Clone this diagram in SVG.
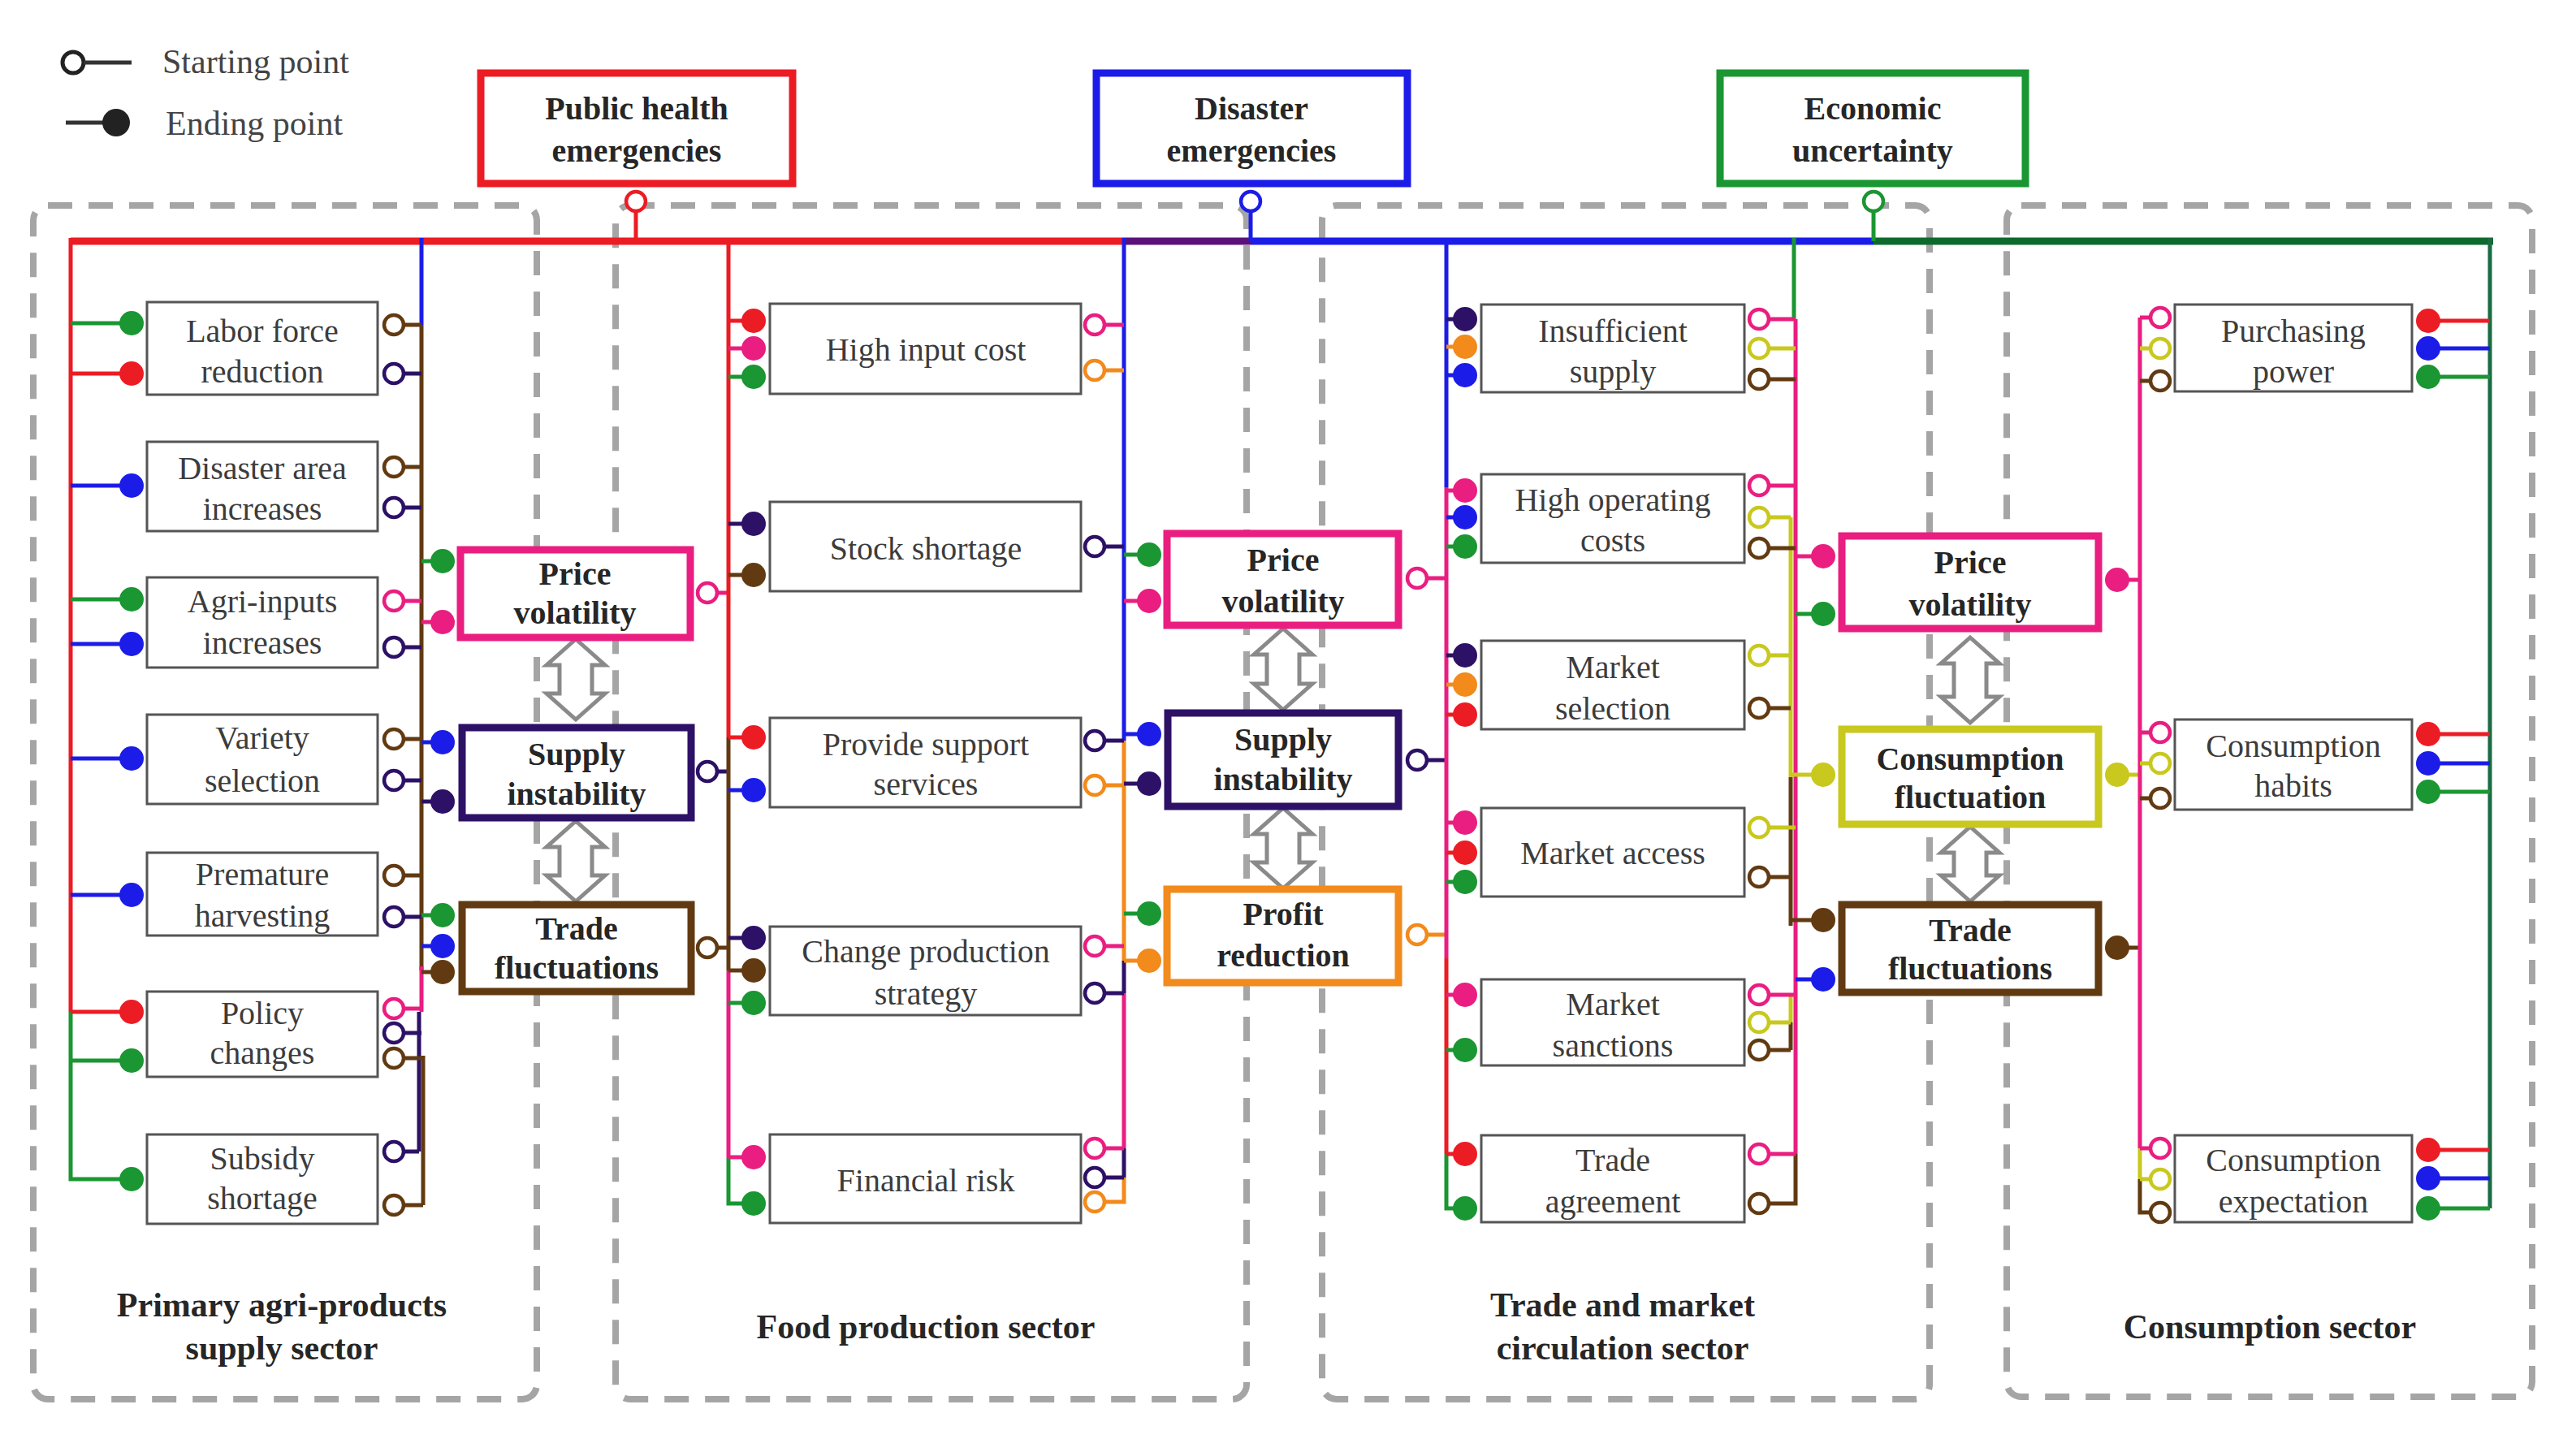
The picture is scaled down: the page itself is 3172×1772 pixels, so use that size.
<svg xmlns="http://www.w3.org/2000/svg" width="3172" height="1772" viewBox="0 0 3172 1772">
<style>
.sec{fill:none;stroke:#a5a5a5;stroke-width:8;stroke-dasharray:30 20}
.nb{fill:#fff;stroke:#555;stroke-width:3}
.t{font-family:"Liberation Serif","Times New Roman",serif;font-size:40px;fill:#3c3c3c;text-anchor:middle}
.tb{font-family:"Liberation Serif","Times New Roman",serif;font-size:40px;font-weight:bold;fill:#262626;text-anchor:middle}
.ts{font-size:42px}
.lg{font-family:"Liberation Serif","Times New Roman",serif;font-size:42px;fill:#444}
.l{fill:none;stroke-width:5}
.bus{fill:none;stroke-width:9}
.o{fill:#fff;stroke-width:4.5}
.arr{fill:#fff;stroke:#8a8a8a;stroke-width:5}
.mb{fill:#fff;stroke-width:9}
.cR{stroke:#ec1c24}.cB{stroke:#1c1ce8}.cG{stroke:#1a9632}.cP{stroke:#e91e80}.cI{stroke:#2d1166}.cN{stroke:#623a12}.cO{stroke:#f28a1c}.cY{stroke:#c8c81e}.cD{stroke:#1b6b45}
.fR{fill:#ec1c24}.fB{fill:#1c1ce8}.fG{fill:#1a9632}.fP{fill:#e91e80}.fI{fill:#2d1166}.fN{fill:#623a12}.fO{fill:#f28a1c}.fY{fill:#c8c81e}
</style>

<g id="legend">
<circle cx="90" cy="77" r="13" fill="#fff" stroke="#222" stroke-width="5"/>
<path d="M103 77H162" stroke="#333" stroke-width="5"/>
<text class="lg" x="200" y="90">Starting point</text>
<path d="M81 151H135" stroke="#333" stroke-width="5"/>
<circle cx="143" cy="151" r="17" fill="#222"/>
<text class="lg" x="204" y="166">Ending point</text>
</g>

<g id="sectors">
<rect class="sec" x="41" y="253" width="620" height="1470" rx="18"/>
<rect class="sec" x="758" y="253" width="777" height="1470" rx="18"/>
<rect class="sec" x="1628" y="253" width="748" height="1470" rx="18"/>
<rect class="sec" x="2471" y="253" width="647" height="1467" rx="18"/>
<text class="tb ts" x="347" y="1621">Primary agri-products</text>
<text class="tb ts" x="347" y="1674">supply sector</text>
<text class="tb ts" x="1140" y="1648">Food production sector</text>
<text class="tb ts" x="1998" y="1621">Trade and market</text>
<text class="tb ts" x="1998" y="1674">circulation sector</text>
<text class="tb ts" x="2795" y="1648">Consumption sector</text>
</g>

<g id="connectors">
<!-- top bus -->
<path class="bus cR" d="M87 297H1382"/>
<path class="bus" stroke="#5a127a" d="M1382 297H1540"/>
<path class="bus cB" d="M1540 297H2307"/>
<path class="bus" stroke="#0e6a2c" d="M2307 297H3070"/>
<path class="l cR" d="M783 260V297"/>
<path class="l cB" d="M1540 260V297"/>
<path class="l cG" d="M2307 260V297"/>
<circle class="o cR" cx="783" cy="248" r="12"/>
<circle class="o cB" cx="1540" cy="248" r="12"/>
<circle class="o cG" cx="2307" cy="248" r="12"/>

<!-- sector 1 left -->
<path class="l cR" d="M87 293V1246"/>
<path class="l cG" d="M87 1246V1452H162"/>
<path class="l cG" d="M87 398H162"/><path class="l cR" d="M87 460H162"/><path class="l cB" d="M87 598H162"/>
<path class="l cG" d="M87 738H162"/><path class="l cB" d="M87 793H162"/><path class="l cB" d="M87 934H162"/>
<path class="l cB" d="M87 1102H162"/><path class="l cR" d="M87 1246H162"/><path class="l cG" d="M87 1306H162"/>
<circle class="fG" cx="162" cy="398" r="15"/><circle class="fR" cx="162" cy="460" r="15"/><circle class="fB" cx="162" cy="598" r="15"/>
<circle class="fG" cx="162" cy="738" r="15"/><circle class="fB" cx="162" cy="793" r="15"/><circle class="fB" cx="162" cy="934" r="15"/>
<circle class="fB" cx="162" cy="1102" r="15"/><circle class="fR" cx="162" cy="1246" r="15"/><circle class="fG" cx="162" cy="1306" r="15"/>
<circle class="fG" cx="162" cy="1452" r="15"/>

<!-- sector 1 right -->
<path class="l cB" d="M519 293V400"/>
<path class="l cN" d="M519 400V1195"/>
<path class="l cP" d="M519 1190V1246"/>
<path class="l cI" d="M516 1246V1418"/>
<path class="l cN" d="M521 1300V1484"/>
<path class="l cN" d="M497 400H519"/><path class="l cI" d="M497 460H519"/><path class="l cN" d="M497 575H519"/>
<path class="l cI" d="M497 625H519"/><path class="l cP" d="M497 740H519"/><path class="l cI" d="M497 797H519"/>
<path class="l cN" d="M497 910H519"/><path class="l cI" d="M497 961H519"/><path class="l cN" d="M497 1078H519"/>
<path class="l cI" d="M497 1129H519"/><path class="l cP" d="M497 1242H519"/><path class="l cI" d="M497 1272H519"/>
<path class="l cN" d="M497 1303H521"/><path class="l cI" d="M497 1418H516"/><path class="l cN" d="M497 1484H521"/>
<circle class="o cN" cx="485" cy="400" r="12"/><circle class="o cI" cx="485" cy="460" r="12"/><circle class="o cN" cx="485" cy="575" r="12"/>
<circle class="o cI" cx="485" cy="625" r="12"/><circle class="o cP" cx="485" cy="740" r="12"/><circle class="o cI" cx="485" cy="797" r="12"/>
<circle class="o cN" cx="485" cy="910" r="12"/><circle class="o cI" cx="485" cy="961" r="12"/><circle class="o cN" cx="485" cy="1078" r="12"/>
<circle class="o cI" cx="485" cy="1129" r="12"/><circle class="o cP" cx="485" cy="1242" r="12"/><circle class="o cI" cx="485" cy="1272" r="12"/>
<circle class="o cN" cx="485" cy="1303" r="12"/><circle class="o cI" cx="485" cy="1418" r="12"/><circle class="o cN" cx="485" cy="1484" r="12"/>

<!-- mid 1 -->
<path class="l cG" d="M519 691H545"/><path class="l cP" d="M519 766H545"/><path class="l cB" d="M519 914H545"/>
<path class="l cI" d="M519 987H545"/><path class="l cG" d="M519 1127H545"/><path class="l cB" d="M519 1165H545"/>
<path class="l cN" d="M519 1197H545"/>
<circle class="fG" cx="545" cy="691" r="15"/><circle class="fP" cx="545" cy="766" r="15"/><circle class="fB" cx="545" cy="914" r="15"/>
<circle class="fI" cx="545" cy="987" r="15"/><circle class="fG" cx="545" cy="1127" r="15"/><circle class="fB" cx="545" cy="1165" r="15"/>
<circle class="fN" cx="545" cy="1197" r="15"/>
<path class="l cP" d="M883 730H897"/><path class="l cI" d="M883 950H897"/><path class="l cN" d="M883 1167H897"/>
<circle class="o cP" cx="871" cy="730" r="12"/><circle class="o cI" cx="871" cy="950" r="12"/><circle class="o cN" cx="871" cy="1167" r="12"/>

<!-- sector 2 left -->
<path class="l cR" d="M897 293V908"/>
<path class="l cN" d="M897 908V1195"/>
<path class="l cP" d="M897 1195V1425"/>
<path class="l cG" d="M897 1425V1482H928"/>
<path class="l cR" d="M897 395H928"/><path class="l cP" d="M897 429H928"/><path class="l cG" d="M897 464H928"/>
<path class="l cI" d="M897 645H928"/><path class="l cN" d="M897 708H928"/><path class="l cR" d="M897 908H928"/>
<path class="l cB" d="M897 973H928"/><path class="l cI" d="M897 1155H928"/><path class="l cN" d="M897 1195H928"/>
<path class="l cG" d="M897 1235H928"/><path class="l cP" d="M897 1425H928"/>
<circle class="fR" cx="928" cy="395" r="15"/><circle class="fP" cx="928" cy="429" r="15"/><circle class="fG" cx="928" cy="464" r="15"/>
<circle class="fI" cx="928" cy="645" r="15"/><circle class="fN" cx="928" cy="708" r="15"/><circle class="fR" cx="928" cy="908" r="15"/>
<circle class="fB" cx="928" cy="973" r="15"/><circle class="fI" cx="928" cy="1155" r="15"/><circle class="fN" cx="928" cy="1195" r="15"/>
<circle class="fG" cx="928" cy="1235" r="15"/><circle class="fP" cx="928" cy="1425" r="15"/><circle class="fG" cx="928" cy="1482" r="15"/>

<!-- sector 2 right -->
<path class="l cB" d="M1384 293V912"/>
<path class="l cO" d="M1384 912V1183"/>
<path class="l cI" d="M1384 1183V1223"/>
<path class="l cP" d="M1384 1223V1414"/>
<path class="l cI" d="M1384 1414V1450"/>
<path class="l cO" d="M1384 1450V1480H1360"/>
<path class="l cP" d="M1360 400H1384"/><path class="l cO" d="M1360 456H1384"/><path class="l cI" d="M1360 673H1384"/>
<path class="l cI" d="M1360 912H1384"/><path class="l cO" d="M1360 967H1384"/><path class="l cP" d="M1360 1165H1384"/>
<path class="l cI" d="M1360 1223H1384"/><path class="l cP" d="M1360 1414H1384"/><path class="l cI" d="M1360 1450H1384"/>
<circle class="o cP" cx="1348" cy="400" r="12"/><circle class="o cO" cx="1348" cy="456" r="12"/><circle class="o cI" cx="1348" cy="673" r="12"/>
<circle class="o cI" cx="1348" cy="912" r="12"/><circle class="o cO" cx="1348" cy="967" r="12"/><circle class="o cP" cx="1348" cy="1165" r="12"/>
<circle class="o cI" cx="1348" cy="1223" r="12"/><circle class="o cP" cx="1348" cy="1414" r="12"/><circle class="o cI" cx="1348" cy="1450" r="12"/>
<circle class="o cO" cx="1348" cy="1480" r="12"/>

<!-- mid 2 -->
<path class="l cG" d="M1384 683H1415"/><path class="l cP" d="M1384 740H1415"/><path class="l cB" d="M1384 904H1415"/>
<path class="l cI" d="M1384 965H1415"/><path class="l cG" d="M1384 1125H1415"/><path class="l cO" d="M1384 1183H1415"/>
<circle class="fG" cx="1415" cy="683" r="15"/><circle class="fP" cx="1415" cy="740" r="15"/><circle class="fB" cx="1415" cy="904" r="15"/>
<circle class="fI" cx="1415" cy="965" r="15"/><circle class="fG" cx="1415" cy="1125" r="15"/><circle class="fO" cx="1415" cy="1183" r="15"/>
<path class="l cP" d="M1757 712H1781"/><path class="l cI" d="M1757 936H1781"/><path class="l cO" d="M1757 1151H1781"/>
<circle class="o cP" cx="1745" cy="712" r="12"/><circle class="o cI" cx="1745" cy="936" r="12"/><circle class="o cO" cx="1745" cy="1151" r="12"/>

<!-- sector 3 left -->
<path class="l cB" d="M1781 293V600"/>
<path class="l cP" d="M1781 600V1180"/>
<path class="l cR" d="M1781 1180V1421"/>
<path class="l cG" d="M1781 1421V1488H1804"/>
<path class="l cI" d="M1781 393H1804"/><path class="l cO" d="M1781 427H1804"/><path class="l cB" d="M1781 462H1804"/>
<path class="l cP" d="M1781 604H1804"/><path class="l cB" d="M1781 637H1804"/><path class="l cG" d="M1781 673H1804"/>
<path class="l cI" d="M1781 807H1804"/><path class="l cO" d="M1781 843H1804"/><path class="l cR" d="M1781 880H1804"/>
<path class="l cP" d="M1781 1013H1804"/><path class="l cR" d="M1781 1050H1804"/><path class="l cG" d="M1781 1086H1804"/>
<path class="l cP" d="M1781 1225H1804"/><path class="l cG" d="M1781 1293H1804"/><path class="l cR" d="M1781 1421H1804"/>
<circle class="fI" cx="1804" cy="393" r="15"/><circle class="fO" cx="1804" cy="427" r="15"/><circle class="fB" cx="1804" cy="462" r="15"/>
<circle class="fP" cx="1804" cy="604" r="15"/><circle class="fB" cx="1804" cy="637" r="15"/><circle class="fG" cx="1804" cy="673" r="15"/>
<circle class="fI" cx="1804" cy="807" r="15"/><circle class="fO" cx="1804" cy="843" r="15"/><circle class="fR" cx="1804" cy="880" r="15"/>
<circle class="fP" cx="1804" cy="1013" r="15"/><circle class="fR" cx="1804" cy="1050" r="15"/><circle class="fG" cx="1804" cy="1086" r="15"/>
<circle class="fP" cx="1804" cy="1225" r="15"/><circle class="fG" cx="1804" cy="1293" r="15"/><circle class="fR" cx="1804" cy="1421" r="15"/>
<circle class="fG" cx="1804" cy="1488" r="15"/>

<!-- sector 3 right -->
<path class="l cG" d="M2209 293V393"/>
<path class="l cP" d="M2211 393V1421"/>
<path class="l cY" d="M2205 637V957"/>
<path class="l cN" d="M2205 957V1140"/>
<path class="l cY" d="M2205 1225V1259"/>
<path class="l cN" d="M2205 1259V1293"/>
<path class="l cN" d="M2211 1421V1482H2178"/>
<path class="l cP" d="M2178 393H2211"/><path class="l cY" d="M2178 429H2211"/><path class="l cN" d="M2178 467H2211"/>
<path class="l cP" d="M2178 598H2211"/><path class="l cY" d="M2178 637H2205"/><path class="l cN" d="M2178 675H2211"/>
<path class="l cY" d="M2178 807H2205"/><path class="l cN" d="M2178 872H2205"/><path class="l cY" d="M2178 1019H2211"/>
<path class="l cN" d="M2178 1080H2205"/><path class="l cP" d="M2178 1225H2211"/><path class="l cY" d="M2178 1259H2205"/>
<path class="l cN" d="M2178 1293H2205"/><path class="l cP" d="M2178 1421H2211"/>
<circle class="o cP" cx="2166" cy="393" r="12"/><circle class="o cY" cx="2166" cy="429" r="12"/><circle class="o cN" cx="2166" cy="467" r="12"/>
<circle class="o cP" cx="2166" cy="598" r="12"/><circle class="o cY" cx="2166" cy="637" r="12"/><circle class="o cN" cx="2166" cy="675" r="12"/>
<circle class="o cY" cx="2166" cy="807" r="12"/><circle class="o cN" cx="2166" cy="872" r="12"/><circle class="o cY" cx="2166" cy="1019" r="12"/>
<circle class="o cN" cx="2166" cy="1080" r="12"/><circle class="o cP" cx="2166" cy="1225" r="12"/><circle class="o cY" cx="2166" cy="1259" r="12"/>
<circle class="o cN" cx="2166" cy="1293" r="12"/><circle class="o cP" cx="2166" cy="1421" r="12"/><circle class="o cN" cx="2166" cy="1482" r="12"/>

<!-- mid 3 -->
<path class="l cP" d="M2211 685H2245"/><path class="l cG" d="M2211 756H2245"/><path class="l cY" d="M2205 954H2245"/>
<path class="l cN" d="M2205 1133H2245"/><path class="l cB" d="M2211 1206H2245"/>
<circle class="fP" cx="2245" cy="685" r="15"/><circle class="fG" cx="2245" cy="756" r="15"/><circle class="fY" cx="2245" cy="954" r="15"/>
<circle class="fN" cx="2245" cy="1133" r="15"/><circle class="fB" cx="2245" cy="1206" r="15"/>
<path class="l cP" d="M2607 714H2635"/><path class="l cY" d="M2607 954H2635"/><path class="l cN" d="M2607 1167H2635"/>
<circle class="fP" cx="2607" cy="714" r="15"/><circle class="fY" cx="2607" cy="954" r="15"/><circle class="fN" cx="2607" cy="1167" r="15"/>

<!-- sector 4 left -->
<path class="l cP" d="M2635 391V1414"/>
<path class="l cY" d="M2635 1414V1452"/>
<path class="l cN" d="M2635 1452V1493H2648"/>
<path class="l cP" d="M2635 391H2648"/><path class="l cY" d="M2635 429H2648"/><path class="l cN" d="M2635 469H2648"/>
<path class="l cP" d="M2635 902H2648"/><path class="l cY" d="M2635 940H2648"/><path class="l cN" d="M2635 983H2648"/>
<path class="l cP" d="M2635 1414H2648"/><path class="l cY" d="M2635 1452H2648"/>
<circle class="o cP" cx="2660" cy="391" r="12"/><circle class="o cY" cx="2660" cy="429" r="12"/><circle class="o cN" cx="2660" cy="469" r="12"/>
<circle class="o cP" cx="2660" cy="902" r="12"/><circle class="o cY" cx="2660" cy="940" r="12"/><circle class="o cN" cx="2660" cy="983" r="12"/>
<circle class="o cP" cx="2660" cy="1414" r="12"/><circle class="o cY" cx="2660" cy="1452" r="12"/><circle class="o cN" cx="2660" cy="1493" r="12"/>

<!-- sector 4 right -->
<path class="l cD" d="M3066 293V1488"/>
<path class="l cR" d="M2990 395H3066"/><path class="l cB" d="M2990 429H3066"/><path class="l cG" d="M2990 464H3066"/>
<path class="l cR" d="M2990 904H3066"/><path class="l cB" d="M2990 940H3066"/><path class="l cG" d="M2990 975H3066"/>
<path class="l cR" d="M2990 1416H3066"/><path class="l cB" d="M2990 1451H3066"/><path class="l cG" d="M2990 1488H3066"/>
<circle class="fR" cx="2990" cy="395" r="15"/><circle class="fB" cx="2990" cy="429" r="15"/><circle class="fG" cx="2990" cy="464" r="15"/>
<circle class="fR" cx="2990" cy="904" r="15"/><circle class="fB" cx="2990" cy="940" r="15"/><circle class="fG" cx="2990" cy="975" r="15"/>
<circle class="fR" cx="2990" cy="1416" r="15"/><circle class="fB" cx="2990" cy="1451" r="15"/><circle class="fG" cx="2990" cy="1488" r="15"/>

<!-- double arrows -->
<path class="arr" d="M709 787L745 819H729V854H745L709 886L673 854H689V819H673Z"/>
<path class="arr" d="M709 1011L745 1043H729V1078H745L709 1110L673 1078H689V1043H673Z"/>
<path class="arr" d="M1580 774L1616 806H1600V842H1616L1580 874L1544 842H1560V806H1544Z"/>
<path class="arr" d="M1580 995L1616 1027H1600V1062H1616L1580 1094L1544 1062H1560V1027H1544Z"/>
<path class="arr" d="M2426 785L2462 817H2446V858H2462L2426 890L2390 858H2406V817H2390Z"/>
<path class="arr" d="M2426 1018L2462 1050H2446V1078H2462L2426 1110L2390 1078H2406V1050H2390Z"/>
</g>

<g id="em-public-health"><rect class="mb cR" x="592" y="90" width="384" height="136"/><text class="tb" x="784" y="147">Public health</text><text class="tb" x="784" y="199">emergencies</text></g>
<g id="em-disaster"><rect class="mb cB" x="1350" y="90" width="383" height="136"/><text class="tb" x="1541" y="147">Disaster</text><text class="tb" x="1541" y="199">emergencies</text></g>
<g id="em-economic"><rect class="mb cG" x="2118" y="90" width="376" height="136"/><text class="tb" x="2306" y="147">Economic</text><text class="tb" x="2306" y="199">uncertainty</text></g>

<g id="labor-force-reduction"><rect class="nb" x="181" y="372" width="284" height="114"/><text class="t" x="323" y="421">Labor force</text><text class="t" x="323" y="471">reduction</text></g>
<g id="disaster-area-increases"><rect class="nb" x="181" y="544" width="284" height="110"/><text class="t" x="323" y="590">Disaster area</text><text class="t" x="323" y="640">increases</text></g>
<g id="agri-inputs-increases"><rect class="nb" x="181" y="711" width="284" height="111"/><text class="t" x="323" y="754">Agri-inputs</text><text class="t" x="323" y="805">increases</text></g>
<g id="variety-selection"><rect class="nb" x="181" y="880" width="284" height="110"/><text class="t" x="323" y="922">Variety</text><text class="t" x="323" y="975">selection</text></g>
<g id="premature-harvesting"><rect class="nb" x="181" y="1050" width="284" height="102"/><text class="t" x="323" y="1090">Premature</text><text class="t" x="323" y="1141">harvesting</text></g>
<g id="policy-changes"><rect class="nb" x="181" y="1221" width="284" height="105"/><text class="t" x="323" y="1261">Policy</text><text class="t" x="323" y="1310">changes</text></g>
<g id="subsidy-shortage"><rect class="nb" x="181" y="1397" width="284" height="110"/><text class="t" x="323" y="1440">Subsidy</text><text class="t" x="323" y="1489">shortage</text></g>

<g id="price-volatility-1"><rect class="mb cP" x="567" y="677" width="283" height="108"/><text class="tb" x="708" y="720">Price</text><text class="tb" x="708" y="768">volatility</text></g>
<g id="supply-instability-1"><rect class="mb cI" x="569" y="896" width="282" height="111"/><text class="tb" x="710" y="942">Supply</text><text class="tb" x="710" y="991">instability</text></g>
<g id="trade-fluctuations-1"><rect class="mb cN" x="569" y="1114" width="282" height="107"/><text class="tb" x="710" y="1157">Trade</text><text class="tb" x="710" y="1205">fluctuations</text></g>

<g id="high-input-cost"><rect class="nb" x="948" y="374" width="383" height="111"/><text class="t" x="1140" y="444">High input cost</text></g>
<g id="stock-shortage"><rect class="nb" x="948" y="618" width="383" height="110"/><text class="t" x="1140" y="689">Stock shortage</text></g>
<g id="provide-support-services"><rect class="nb" x="948" y="884" width="383" height="110"/><text class="t" x="1140" y="930">Provide support</text><text class="t" x="1140" y="979">services</text></g>
<g id="change-production-strategy"><rect class="nb" x="948" y="1141" width="383" height="109"/><text class="t" x="1140" y="1185">Change production</text><text class="t" x="1140" y="1237">strategy</text></g>
<g id="financial-risk"><rect class="nb" x="948" y="1397" width="383" height="109"/><text class="t" x="1140" y="1467">Financial risk</text></g>

<g id="price-volatility-2"><rect class="mb cP" x="1437" y="657" width="285" height="113"/><text class="tb" x="1580" y="703">Price</text><text class="tb" x="1580" y="754">volatility</text></g>
<g id="supply-instability-2"><rect class="mb cI" x="1438" y="878" width="284" height="115"/><text class="tb" x="1580" y="924">Supply</text><text class="tb" x="1580" y="973">instability</text></g>
<g id="profit-reduction"><rect class="mb cO" x="1437" y="1095" width="285" height="115"/><text class="tb" x="1580" y="1139">Profit</text><text class="tb" x="1580" y="1190">reduction</text></g>

<g id="insufficient-supply"><rect class="nb" x="1824" y="375" width="324" height="108"/><text class="t" x="1986" y="421">Insufficient</text><text class="t" x="1986" y="471">supply</text></g>
<g id="high-operating-costs"><rect class="nb" x="1824" y="584" width="324" height="109"/><text class="t" x="1986" y="629">High operating</text><text class="t" x="1986" y="679">costs</text></g>
<g id="market-selection"><rect class="nb" x="1824" y="789" width="324" height="109"/><text class="t" x="1986" y="835">Market</text><text class="t" x="1986" y="886">selection</text></g>
<g id="market-access"><rect class="nb" x="1824" y="995" width="324" height="109"/><text class="t" x="1986" y="1064">Market access</text></g>
<g id="market-sanctions"><rect class="nb" x="1824" y="1206" width="324" height="106"/><text class="t" x="1986" y="1250">Market</text><text class="t" x="1986" y="1301">sanctions</text></g>
<g id="trade-agreement"><rect class="nb" x="1824" y="1398" width="324" height="107"/><text class="t" x="1986" y="1442">Trade</text><text class="t" x="1986" y="1493">agreement</text></g>

<g id="price-volatility-3"><rect class="mb cP" x="2268" y="660" width="316" height="114"/><text class="tb" x="2426" y="706">Price</text><text class="tb" x="2426" y="758">volatility</text></g>
<g id="consumption-fluctuation"><rect class="mb cY" x="2268" y="898" width="316" height="117"/><text class="tb" x="2426" y="948">Consumption</text><text class="tb" x="2426" y="995">fluctuation</text></g>
<g id="trade-fluctuations-3"><rect class="mb cN" x="2268" y="1114" width="316" height="108"/><text class="tb" x="2426" y="1159">Trade</text><text class="tb" x="2426" y="1206">fluctuations</text></g>

<g id="purchasing-power"><rect class="nb" x="2678" y="375" width="292" height="107"/><text class="t" x="2824" y="421">Purchasing</text><text class="t" x="2824" y="471">power</text></g>
<g id="consumption-habits"><rect class="nb" x="2678" y="886" width="292" height="111"/><text class="t" x="2824" y="932">Consumption</text><text class="t" x="2824" y="981">habits</text></g>
<g id="consumption-expectation"><rect class="nb" x="2678" y="1398" width="292" height="107"/><text class="t" x="2824" y="1442">Consumption</text><text class="t" x="2824" y="1493">expectation</text></g>
</svg>
